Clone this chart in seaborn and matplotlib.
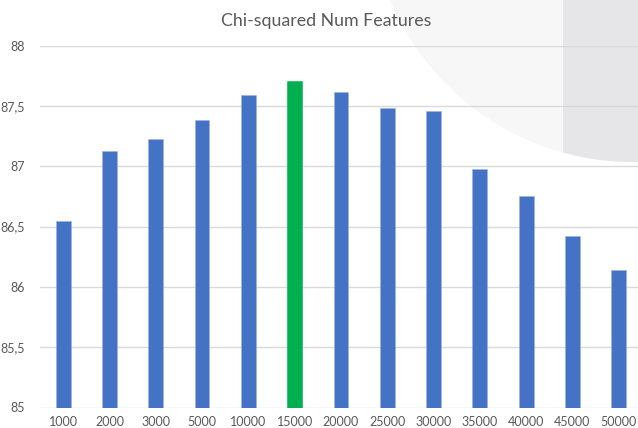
import matplotlib
matplotlib.use("Agg")
import matplotlib.pyplot as plt
import matplotlib.ticker as mticker
from matplotlib.patches import Circle, Rectangle
import pandas as pd
import seaborn as sns

# data
num_features = ["1000", "2000", "3000", "5000", "10000", "15000", "20000",
                "25000", "30000", "35000", "40000", "45000", "50000"]
scores = [86.55, 87.13, 87.23, 87.38, 87.59, 87.71, 87.62,
          87.48, 87.46, 86.98, 86.75, 86.42, 86.14]
best_label = "15000"

BLUE = "#4472C4"
GREEN = "#00B050"
TEXT = "#595959"
GRID = "#D9D9D9"

W, H = 638, 428

sns.set_theme(style="white")
plt.rcParams["font.family"] = ["Lato", "DejaVu Sans"]

fig = plt.figure(figsize=(W / 100, H / 100), dpi=100)
fig.patch.set_facecolor("white")

# decorative background (slide shapes), in pixel coordinates
bg = fig.add_axes([0, 0, 1, 1], zorder=0)
bg.set_xlim(0, W)
bg.set_ylim(H, 0)
bg.axis("off")
light = Circle((633, -101), 263, facecolor="#F7F7F7", edgecolor="none")
bg.add_patch(light)
dark = Circle((633, -101), 263, facecolor="#E6E6E9", edgecolor="none")
bg.add_patch(dark)
dark.set_clip_path(Rectangle((563, -10), 100, 300, transform=bg.transData))

df = pd.DataFrame({"features": num_features, "score": scores})
palette = {lab: (GREEN if lab == best_label else BLUE) for lab in num_features}

ax = fig.add_axes([40 / W, 20.5 / H, (W - 40) / W, 361.8 / H], zorder=1)
ax.patch.set_alpha(0)
sns.barplot(data=df, x="features", y="score", hue="features", palette=palette,
            width=0.32, legend=False, saturation=1, ax=ax,
            edgecolor="#9DB3E0", linewidth=0.4)
for p, lab in zip(ax.patches, num_features):
    if lab == best_label:
        p.set_edgecolor(GREEN)

ax.set_ylim(85, 88)
ax.set_xlim(-0.5, -0.5 + (W - 40) / 46.3)
ax.set_yticks([85, 85.5, 86, 86.5, 87, 87.5, 88])
ax.yaxis.set_major_formatter(
    mticker.FuncFormatter(lambda v, _: (f"{v:g}").replace(".", ",")))
ax.grid(axis="y", color=GRID, linewidth=1)
ax.set_axisbelow(True)
for s in ax.spines.values():
    s.set_visible(False)
ax.tick_params(axis="both", length=0, colors=TEXT, labelsize=9)
ax.tick_params(axis="y", pad=11)
ax.tick_params(axis="x", pad=6)
ax.set_xlabel("")
ax.set_ylabel("")

fig.text(326 / W, 1 - 21 / H, "Chi-squared Num Features", ha="center",
         va="center", fontsize=12.8, color=TEXT)

fig.savefig("out.png", dpi=100)
